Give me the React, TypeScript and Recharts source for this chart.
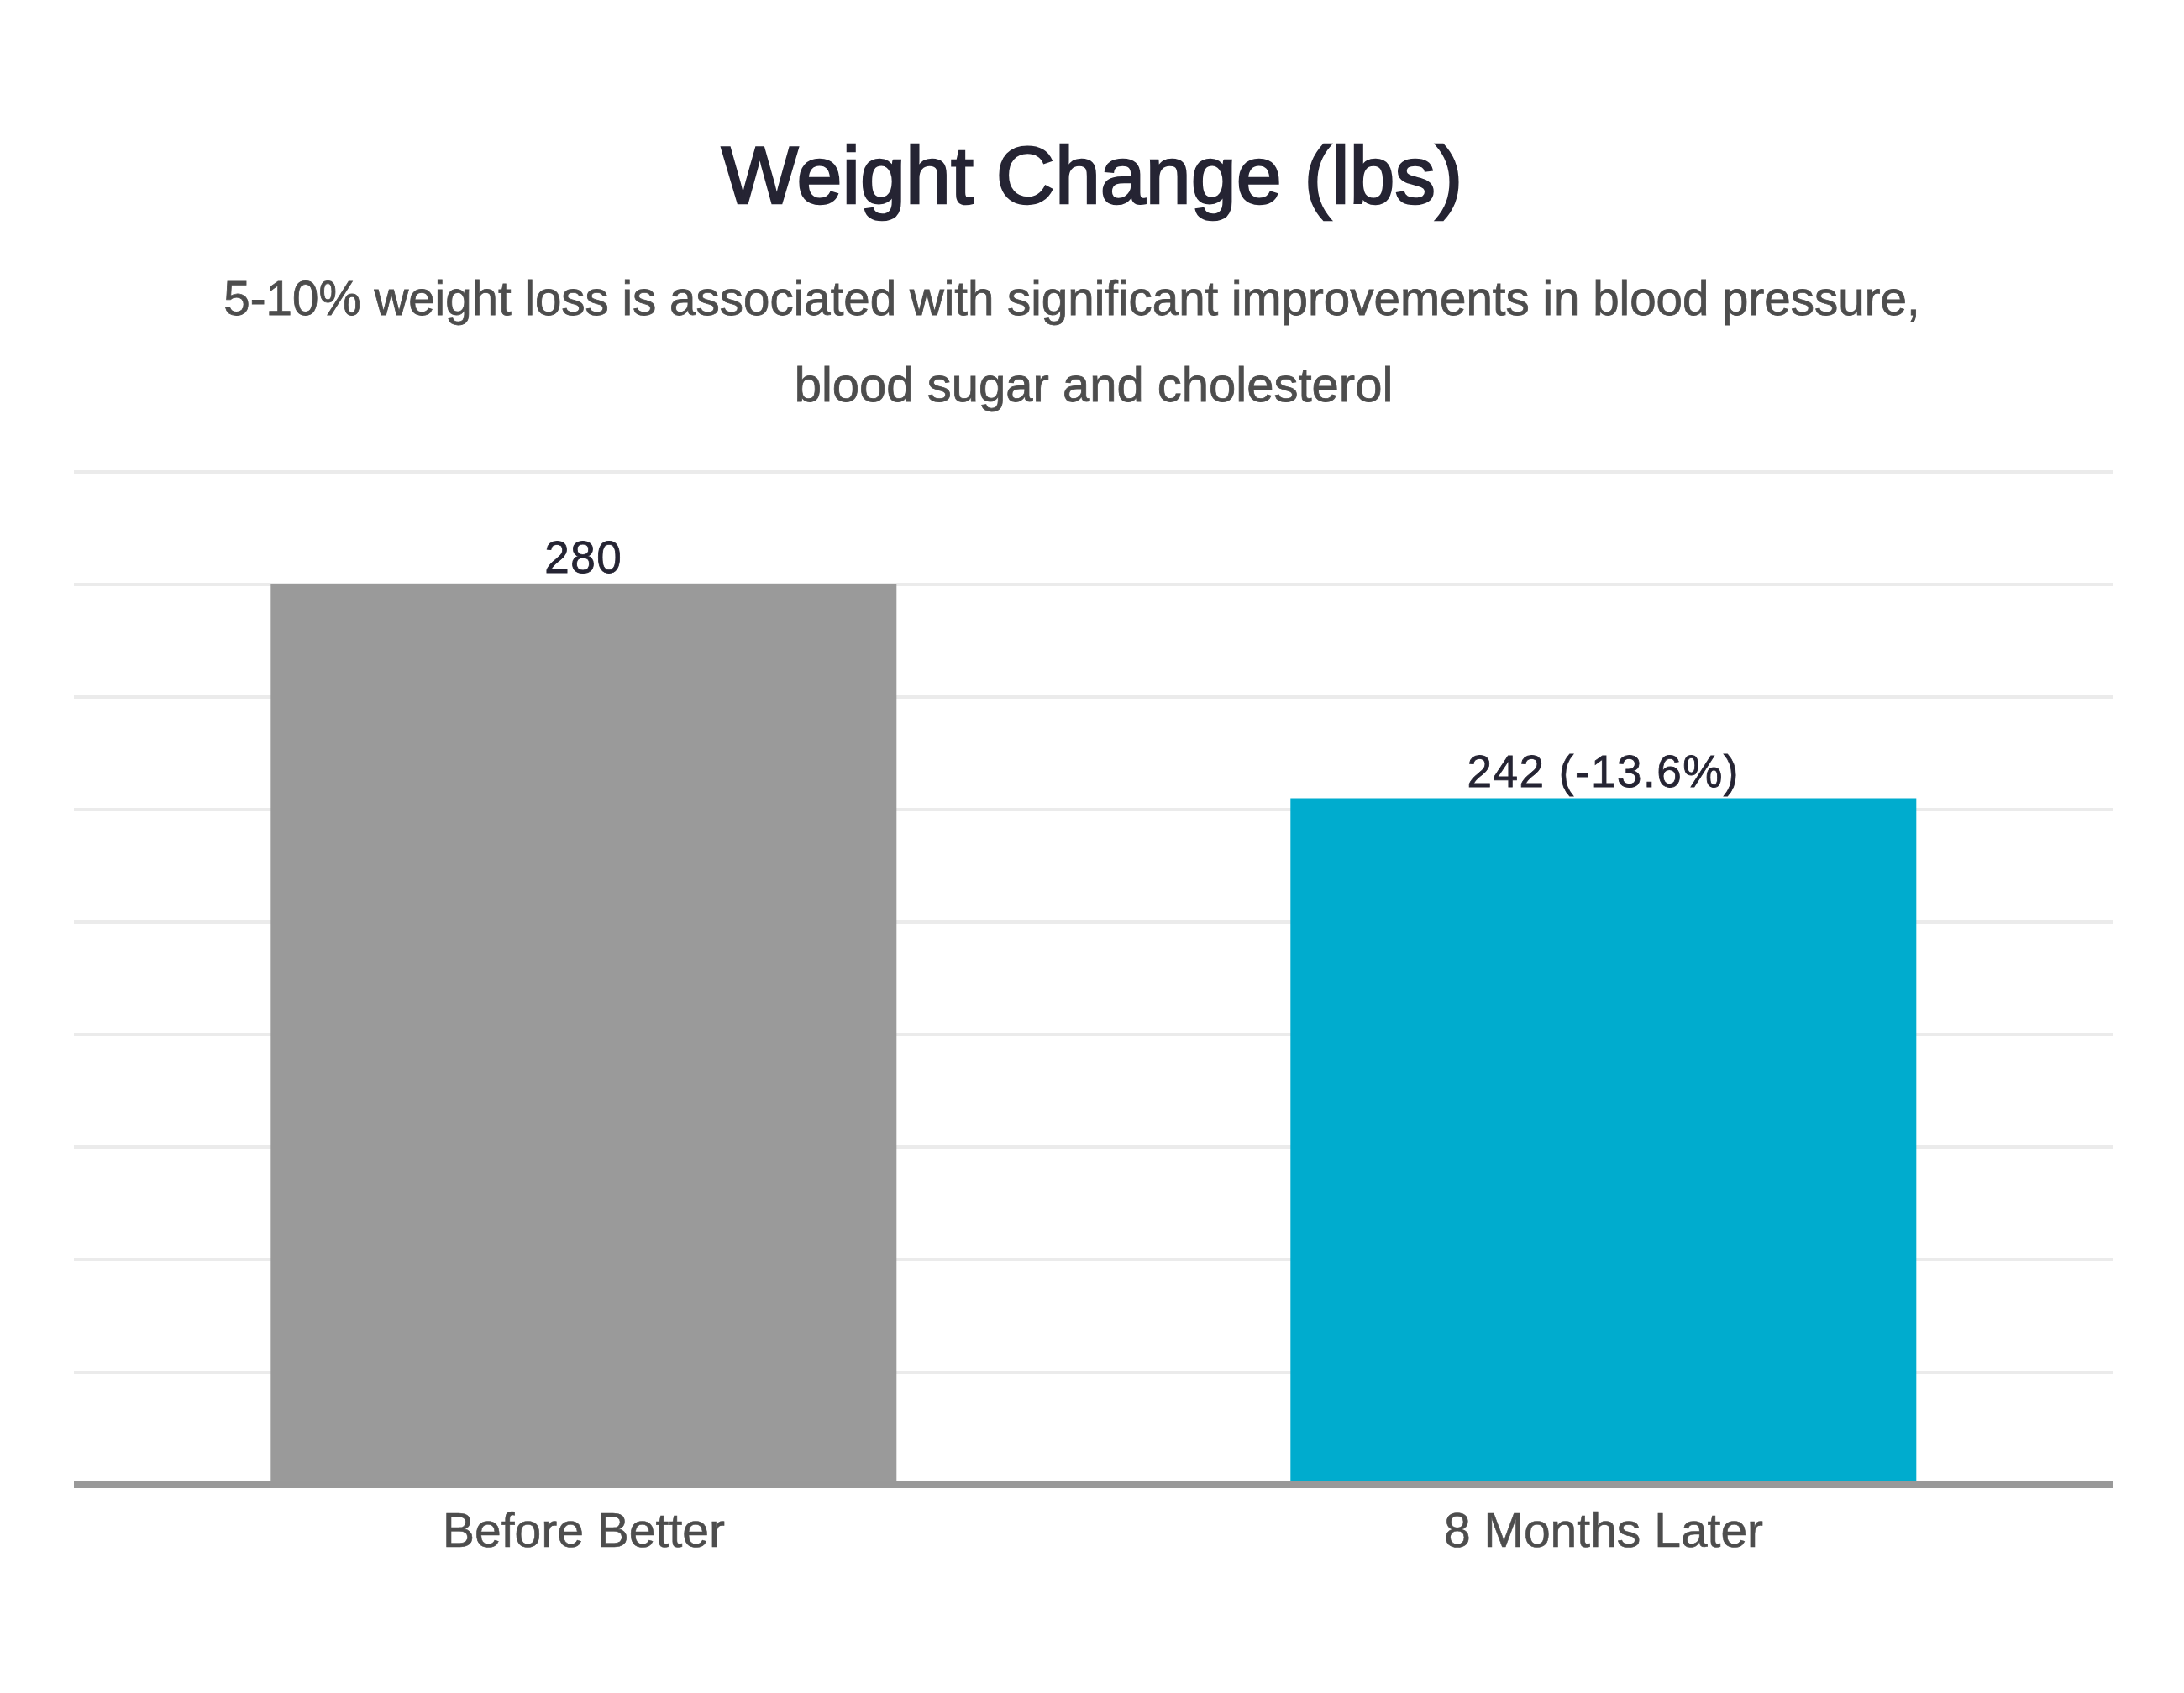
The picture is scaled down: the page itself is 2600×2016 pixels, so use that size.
import React from "react";
import { BarChart, Bar, XAxis, YAxis, CartesianGrid, Cell, LabelList } from "recharts";

const categories = ["Before Better", "8 Months Later"];
const weights = [280, 242];
const valueLabels = ["280", "242 (-13.6%)"];
const barColors = ["#9a9a9a", "#00acce"];
const yTicks = [120, 140, 160, 180, 200, 220, 240, 260, 280, 300];

const titleText = "Weight Change (lbs)";
const subtitleLines = [
  "5-10% weight loss is associated with significant improvements in blood pressure,",
  "blood sugar and cholesterol",
];

const data = categories.map((c, i) => ({ name: c, value: weights[i], label: valueLabels[i] }));

const FONT = "'Liberation Sans', Arial, sans-serif";

const XTick = (props: any) => {
  const { x, y, payload } = props;
  return (
    <text
      x={x}
      y={y + 66}
      textAnchor="middle"
      fill="#4d4d4d"
      stroke="#4d4d4d"
      strokeWidth={0.6}
      fontSize={57}
      fontFamily={FONT}
    >
      {payload.value}
    </text>
  );
};

export default function App() {
  return (
    <div style={{ position: "relative", width: 2600, height: 2016, background: "#fff" }}>
      <style>{`body{margin:0;background:#fff}`}</style>
      <BarChart
        width={2600}
        height={2016}
        data={data}
        margin={{ top: 562, right: 84, bottom: 148, left: 88 }}
        barCategoryGap="19.3%"
      >
        <CartesianGrid horizontal vertical={false} stroke="#ebebeb" strokeWidth={4} />
        <YAxis hide domain={[120, 300]} ticks={yTicks} allowDataOverflow />
        <XAxis
          dataKey="name"
          height={100}
          tickLine={false}
          axisLine={{ stroke: "#999999", strokeWidth: 8 }}
          tick={<XTick />}
          interval={0}
        />
        <Bar dataKey="value" isAnimationActive={false}>
          {data.map((d, i) => (
            <Cell key={d.name} fill={barColors[i]} />
          ))}
          <LabelList
            dataKey="label"
            position="top"
            offset={14}
            fill="#252433"
            stroke="#252433"
            strokeWidth={0.8}
            fontSize={53}
            letterSpacing={1.5}
            fontFamily={FONT}
          />
        </Bar>
      </BarChart>
      <svg
        width={2600}
        height={2016}
        style={{ position: "absolute", left: 0, top: 0, pointerEvents: "none" }}
      >
        <text
          x={1300}
          y={242}
          textAnchor="middle"
          fill="#252433"
          stroke="#252433"
          strokeWidth={2.5}
          fontSize={97}
          fontFamily={FONT}
        >
          {titleText}
        </text>
        {subtitleLines.map((line, i) => (
          <text
            key={i}
            x={i === 0 ? 1276 : 1302}
            y={375 + i * 103}
            textAnchor="middle"
            fill="#4d4d4d"
            stroke="#4d4d4d"
            strokeWidth={0.8}
            fontSize={i === 0 ? 56.5 : 58}
            fontFamily={FONT}
          >
            {line}
          </text>
        ))}
      </svg>
    </div>
  );
}
